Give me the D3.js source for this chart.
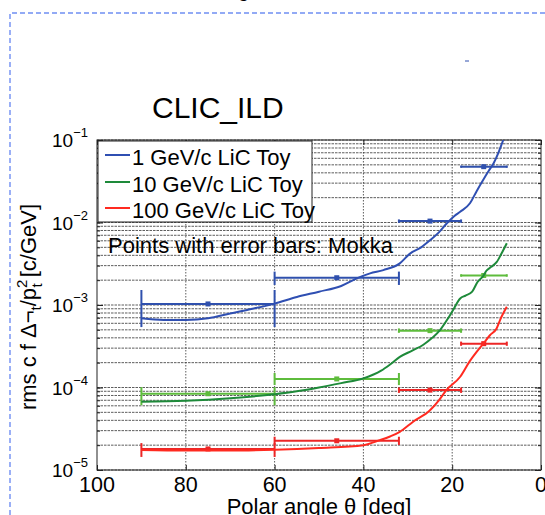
<!DOCTYPE html>
<html>
<head>
<meta charset="utf-8">
<script src="https://cdn.jsdelivr.net/npm/d3@7"></script>
<style>
  body { margin: 0; background: #fff; }
  text { font-family: "Liberation Sans", Arial, sans-serif; fill: #000; }
</style>
</head>
<body>
<div id="chart"></div>
<script>
// LiC Toy curves (polar angle in deg, rms in c/GeV)
const toy1Theta = [90, 85, 80, 75, 70, 65, 60, 55, 50, 45, 41.5, 38.5, 35.5, 31.8, 29.5, 27, 25, 23, 21.2, 19.5, 18.2, 16, 14.5, 13, 11.8, 10.7, 9.6, 8.5];
const toy1 = [6.9e-4, 6.6e-4, 6.6e-4, 6.9e-4, 7.9e-4, 9.0e-4, 1.04e-3, 1.25e-3, 1.45e-3, 1.7e-3, 2.1e-3, 2.42e-3, 2.65e-3, 3.2e-3, 4.2e-3, 5.0e-3, 6.1e-3, 7.6e-3, 9.8e-3, 1.2e-2, 1.35e-2, 1.71e-2, 2.4e-2, 3.3e-2, 4.2e-2, 5.2e-2, 7.0e-2, 1.0e-1];

const toy10Theta = [90, 80, 70, 60, 55, 50, 45, 40, 36, 34, 31.8, 29, 26.5, 24.5, 22.7, 21, 19.8, 18.2, 17, 15.5, 14.3, 13, 12.3, 11.2, 10, 8.8, 7.7];
const toy10 = [6.7e-5, 6.9e-5, 7.4e-5, 8.3e-5, 9.0e-5, 1.0e-4, 1.13e-4, 1.29e-4, 1.6e-4, 1.9e-4, 2.35e-4, 2.8e-4, 3.3e-4, 4.0e-4, 5.0e-4, 6.8e-4, 8.7e-4, 1.2e-3, 1.3e-3, 1.45e-3, 1.9e-3, 2.25e-3, 2.6e-3, 2.9e-3, 3.3e-3, 4.3e-3, 5.6e-3];

const toy100Theta = [90, 80, 70, 60, 50, 40, 36.3, 34, 31.8, 28.8, 25, 23, 21.3, 18.2, 16, 14.5, 13, 11.5, 10, 9, 7.7];
const toy100 = [1.75e-5, 1.72e-5, 1.72e-5, 1.76e-5, 1.85e-5, 2.0e-5, 2.3e-5, 2.55e-5, 2.9e-5, 3.85e-5, 5.3e-5, 7.0e-5, 9.3e-5, 1.35e-4, 2.1e-4, 2.7e-4, 3.4e-4, 4.3e-4, 5.2e-4, 7.0e-4, 9.5e-4];

// Mokka points: angular bins and values with error extents
const binLo = [90, 60, 32, 18];
const binHi = [60, 32, 18, 7.7];
const binMid = [75, 46, 25, 12.9];

const mokka1 = [1.03e-3, 2.14e-3, 1.04e-2, 4.75e-2];
const mokka1Lo = [5.4e-4, 1.75e-3, 9.9e-3, 4.6e-2];
const mokka1Hi = [1.52e-3, 2.54e-3, 1.09e-2, 4.9e-2];

const mokka10 = [8.4e-5, 1.27e-4, 4.89e-4, 2.28e-3];
const mokka10Lo = [6.1e-5, 1.07e-4, 4.6e-4, 2.2e-3];
const mokka10Hi = [1.01e-4, 1.5e-4, 5.2e-4, 2.36e-3];

const mokka100 = [1.8e-5, 2.26e-5, 9.3e-5, 3.4e-4];
const mokka100Lo = [1.44e-5, 2.01e-5, 8.6e-5, 3.2e-4];
const mokka100Hi = [2.12e-5, 2.53e-5, 1.0e-4, 3.6e-4];

const seriesNames = ["1 GeV/c LiC Toy", "10 GeV/c LiC Toy", "100 GeV/c LiC Toy"];
const xTicks = [100, 80, 60, 40, 20, 0];
const yDecades = [1e-5, 1e-4, 1e-3, 1e-2, 1e-1];
const yExponents = ["\u22125", "\u22124", "\u22123", "\u22122", "\u22121"];

const width = 545, height = 515;
const plotL = 97, plotR = 541, plotT = 140, plotB = 470;

const svg = d3.select("#chart").append("svg")
  .attr("width", width)
  .attr("height", height);

const x = d3.scaleLinear().domain([100, 0]).range([plotL, plotR]);
const y = d3.scaleLog().domain([1e-5, 1e-1]).range([plotB, plotT]);

// page frame (dashed blue)
svg.append("path")
  .attr("d", `M10,${height} L10,13 L${width},13`)
  .attr("fill", "none")
  .attr("stroke", "#6f8ef2")
  .attr("stroke-width", 1.4)
  .attr("stroke-dasharray", "5,3");
svg.append("line")
  .attr("x1", 465).attr("x2", 469).attr("y1", 61).attr("y2", 61)
  .attr("stroke", "#3050b0").attr("stroke-width", 1);
svg.append("text").attr("x", 238).attr("y", -3).attr("font-size", 20).text("g");

// title
svg.append("text")
  .attr("x", 152).attr("y", 118)
  .attr("font-size", 30)
  .text("CLIC_ILD");

// grid
const minorVals = [];
yDecades.slice(0, -1).forEach(d => { for (let m = 1; m <= 9; m++) minorVals.push(d * m); });
minorVals.push(1e-1);

const grid = svg.append("g");
grid.selectAll("line.h").data(minorVals).enter().append("line")
  .attr("x1", plotL).attr("x2", plotR)
  .attr("y1", d => y(d)).attr("y2", d => y(d))
  .attr("stroke", "#333").attr("stroke-width", 0.8)
  .attr("stroke-dasharray", "2.5,1");
grid.selectAll("line.v").data(xTicks.slice(1, -1)).enter().append("line")
  .attr("x1", d => x(d)).attr("x2", d => x(d))
  .attr("y1", plotT).attr("y2", plotB)
  .attr("stroke", "#333").attr("stroke-width", 0.8)
  .attr("stroke-dasharray", "1.5,1.5");

// axes (inward ticks)
const axisStyle = g => {
  g.select(".domain").remove();
  g.selectAll(".tick line").attr("stroke", "#222");
};
svg.append("g").attr("transform", `translate(0,${plotB})`)
  .call(d3.axisBottom(x).tickValues(xTicks).tickSize(-5).tickFormat("")).call(axisStyle);
svg.append("g").attr("transform", `translate(0,${plotT})`)
  .call(d3.axisTop(x).tickValues(xTicks).tickSize(-5).tickFormat("")).call(axisStyle);
svg.append("g").attr("transform", `translate(${plotL},0)`)
  .call(d3.axisLeft(y).tickValues(minorVals).tickSize(-3).tickFormat("")).call(axisStyle);
svg.append("g").attr("transform", `translate(${plotL},0)`)
  .call(d3.axisLeft(y).tickValues(yDecades).tickSize(-6).tickFormat("")).call(axisStyle);
svg.append("g").attr("transform", `translate(${plotR},0)`)
  .call(d3.axisRight(y).tickValues(minorVals).tickSize(-3).tickFormat("")).call(axisStyle);
svg.append("g").attr("transform", `translate(${plotR},0)`)
  .call(d3.axisRight(y).tickValues(yDecades).tickSize(-6).tickFormat("")).call(axisStyle);

svg.append("rect")
  .attr("x", plotL).attr("y", plotT)
  .attr("width", plotR - plotL).attr("height", plotB - plotT)
  .attr("fill", "none").attr("stroke", "#222").attr("stroke-width", 1);

// tick labels
svg.selectAll("text.xt").data(xTicks).enter().append("text")
  .attr("x", d => x(d)).attr("y", 492)
  .attr("text-anchor", "middle")
  .attr("font-size", 21.5)
  .text(d => d);

const yl = svg.selectAll("text.yt").data(yDecades).enter().append("text")
  .attr("x", 52).attr("y", d => y(d) + 7)
  .attr("font-size", 19);
yl.append("tspan").text("10");
yl.append("tspan").attr("dy", -10).attr("font-size", 13).text((d, i) => yExponents[i]);

// axis titles
svg.append("text")
  .attr("x", 319).attr("y", 514)
  .attr("text-anchor", "middle")
  .attr("font-size", 22)
  .text("Polar angle \u03b8 [deg]");

const ylab = svg.append("text")
  .attr("transform", "translate(36,307) rotate(-90)")
  .attr("text-anchor", "middle")
  .attr("font-size", 22);
ylab.append("tspan").text("rms c f \u0394\u00ac");
ylab.append("tspan").attr("dy", 5).attr("font-size", 15).text("t");
ylab.append("tspan").attr("dy", -5).text("/p");
ylab.append("tspan").attr("dy", -9).attr("font-size", 15).text("2");
ylab.append("tspan").attr("dx", -8).attr("dy", 15).attr("font-size", 15).text("t");
ylab.append("tspan").attr("dy", -6).text(" [c/GeV]");

// clip
svg.append("clipPath").attr("id", "plotclip")
  .append("rect").attr("x", plotL).attr("y", plotT)
  .attr("width", plotR - plotL).attr("height", plotB - plotT);

const series = [
  { theta: toy1Theta, val: toy1, m: mokka1, lo: mokka1Lo, hi: mokka1Hi, line: "#2f4fb2", pts: "#2f50ad" },
  { theta: toy10Theta, val: toy10, m: mokka10, lo: mokka10Lo, hi: mokka10Hi, line: "#1e8a3a", pts: "#5ebc3c" },
  { theta: toy100Theta, val: toy100, m: mokka100, lo: mokka100Lo, hi: mokka100Hi, line: "#ff2a20", pts: "#ec2626" }
];

const plot = svg.append("g").attr("clip-path", "url(#plotclip)");
const lineGen = d3.line().x(d => x(d[0])).y(d => y(d[1])).curve(d3.curveMonotoneX);

series.forEach(s => {
  // Mokka error bars
  const eb = plot.append("g").attr("stroke", s.pts).attr("stroke-width", 2).attr("fill", s.pts);
  s.m.forEach((v, i) => {
    eb.append("line")
      .attr("x1", x(binLo[i])).attr("x2", x(binHi[i]))
      .attr("y1", y(v)).attr("y2", y(v));
    [binLo[i], binHi[i]].forEach(t => {
      eb.append("line")
        .attr("x1", x(t)).attr("x2", x(t))
        .attr("y1", y(s.lo[i])).attr("y2", y(s.hi[i]));
    });
    eb.append("rect")
      .attr("x", x(binMid[i]) - 2.5).attr("y", y(v) - 2.5)
      .attr("width", 5).attr("height", 5)
      .attr("stroke", "none");
  });
});

series.forEach(s => {
  plot.append("path")
    .datum(s.theta.map((t, i) => [t, s.val[i]]))
    .attr("d", lineGen)
    .attr("fill", "none")
    .attr("stroke", s.line)
    .attr("stroke-width", 2);
});

// note
svg.append("text")
  .attr("x", 108).attr("y", 253)
  .attr("font-size", 22)
  .text("Points with error bars: Mokka");

// legend
const legend = svg.append("g");
legend.append("rect")
  .attr("x", 98).attr("y", 141)
  .attr("width", 214).attr("height", 81)
  .attr("fill", "#fff").attr("stroke", "#222").attr("stroke-width", 1);
const legendY = [155, 182, 208];
seriesNames.forEach((name, i) => {
  legend.append("line")
    .attr("x1", 105).attr("x2", 130)
    .attr("y1", legendY[i]).attr("y2", legendY[i])
    .attr("stroke", series[i].line).attr("stroke-width", 2);
  legend.append("text")
    .attr("x", 132).attr("y", legendY[i] + 9.5)
    .attr("font-size", 22)
    .text(name);
});
</script>
</body>
</html>
